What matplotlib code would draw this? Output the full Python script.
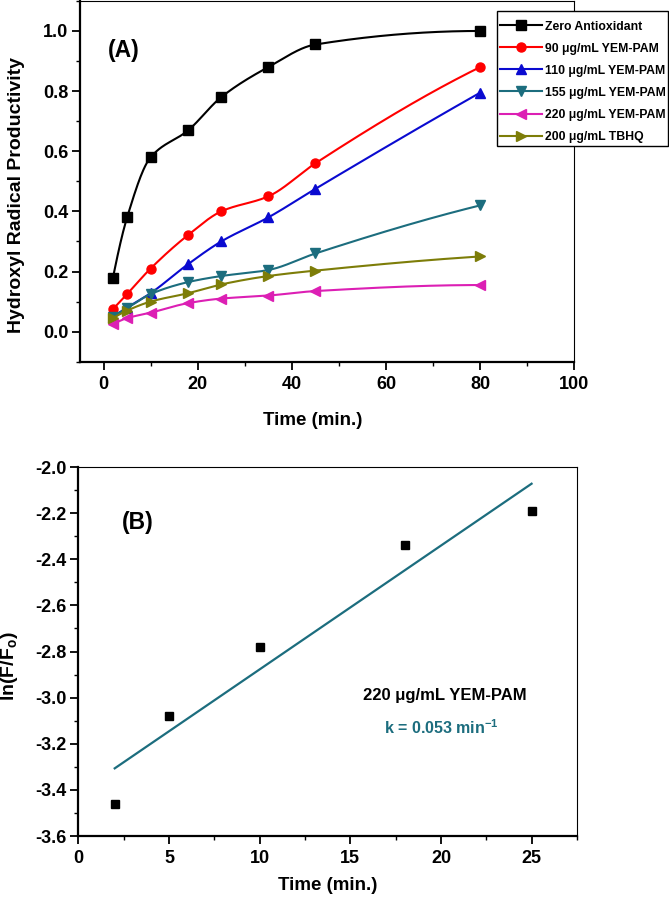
import matplotlib
matplotlib.use("Agg")
import matplotlib.pyplot as plt
from matplotlib.patches import Rectangle
from matplotlib.ticker import MultipleLocator, FormatStrFormatter
import numpy as np

plt.rcParams['font.family'] = ['Liberation Sans', 'DejaVu Sans']
plt.rcParams['font.weight'] = 'bold'
plt.rcParams['mathtext.fontset'] = 'custom'
plt.rcParams['mathtext.bf'] = 'Liberation Sans:bold'
plt.rcParams['mathtext.rm'] = 'Liberation Sans:bold'

# Дані панелі (A)
time_a = [2, 5, 10, 18, 25, 35, 45, 80]
zero_antiox = [0.18, 0.38, 0.58, 0.67, 0.78, 0.88, 0.955, 1.0]
yem_90 = [0.075, 0.125, 0.21, 0.322, 0.40, 0.45, 0.56, 0.88]
yem_110 = [0.05, 0.08, 0.128, 0.225, 0.30, 0.38, 0.475, 0.795]
yem_155 = [0.05, 0.078, 0.125, 0.165, 0.185, 0.205, 0.26, 0.42]
yem_220 = [0.025, 0.045, 0.063, 0.095, 0.11, 0.12, 0.135, 0.155]
tbhq_200 = [0.045, 0.07, 0.10, 0.128, 0.157, 0.185, 0.203, 0.25]

labels_a = ["Zero Antioxidant", "90 μg/mL YEM-PAM", "110 μg/mL YEM-PAM",
            "155 μg/mL YEM-PAM", "220 μg/mL YEM-PAM", "200 μg/mL TBHQ"]

# Дані панелі (B)
time_b = [2, 5, 10, 18, 25]
ln_ratio = [-3.46, -3.08, -2.78, -2.34, -2.19]

TEAL = '#1c6d7e'


def pchip_curve(x, y, n=400):
    # монотонна кубічна інтерполяція (Fritsch-Carlson) для гладкої лінії
    x = np.asarray(x, float)
    y = np.asarray(y, float)
    h = np.diff(x)
    delta = np.diff(y) / h
    d = np.zeros_like(y)
    for i in range(1, len(x) - 1):
        if delta[i - 1] * delta[i] > 0:
            w1 = 2 * h[i] + h[i - 1]
            w2 = h[i] + 2 * h[i - 1]
            d[i] = (w1 + w2) / (w1 / delta[i - 1] + w2 / delta[i])
    d[0] = ((2 * h[0] + h[1]) * delta[0] - h[0] * delta[1]) / (h[0] + h[1])
    if np.sign(d[0]) != np.sign(delta[0]):
        d[0] = 0
    d[-1] = ((2 * h[-1] + h[-2]) * delta[-1] - h[-1] * delta[-2]) / (h[-1] + h[-2])
    if np.sign(d[-1]) != np.sign(delta[-1]):
        d[-1] = 0
    xs = np.linspace(x[0], x[-1], n)
    idx = np.clip(np.searchsorted(x, xs) - 1, 0, len(x) - 2)
    t = (xs - x[idx]) / h[idx]
    h00 = 2 * t**3 - 3 * t**2 + 1
    h10 = t**3 - 2 * t**2 + t
    h01 = -2 * t**3 + 3 * t**2
    h11 = t**3 - t**2
    ys = h00 * y[idx] + h10 * h[idx] * d[idx] + h01 * y[idx + 1] + h11 * h[idx] * d[idx + 1]
    return xs, ys


fig = plt.figure(figsize=(6.69, 9), dpi=100)
ax1 = fig.add_axes([0.1196, 0.5981, 0.739, 0.4009])
ax2 = fig.add_axes([0.1173, 0.0711, 0.745, 0.41])

series = [zero_antiox, yem_90, yem_110, yem_155, yem_220, tbhq_200]
colors = ['black', '#ff0000', '#0a0ad0', TEAL, '#dc1fb4', '#7d7d08']
markers = ['s', 'o', '^', 'v', '<', '>']

handles = []
for vals, c, mk, lab in zip(series, colors, markers, labels_a):
    xs, ys = pchip_curve(time_a, vals)
    ax1.plot(xs, ys, color=c, lw=1.5)
    ax1.plot(time_a, vals, ls='none', marker=mk, color=c, ms=6.5)
    h, = ax1.plot([], [], color=c, marker=mk, lw=1.5, ms=6.5, label=lab)
    handles.append(h)

ax1.set_xlim(-5, 100)
ax1.set_ylim(-0.1, 1.1)
ax1.xaxis.set_major_locator(MultipleLocator(20))
ax1.xaxis.set_minor_locator(MultipleLocator(10))
ax1.set_yticks([0.0, 0.2, 0.4, 0.6, 0.8, 1.0])
ax1.yaxis.set_minor_locator(MultipleLocator(0.1))
ax1.yaxis.set_major_formatter(FormatStrFormatter('%.1f'))
ax1.set_xlabel("Time (min.)", fontsize=13.5, fontweight='bold', va='top')
ax1.set_ylabel("Hydroxyl Radical Productivity", fontsize=14, fontweight='bold')
ax1.xaxis.set_label_coords(0.471, -0.138)
ax1.yaxis.set_label_coords(-0.112, 0.461)
ax1.text(1.0, 0.935, "(A)", fontsize=16.5, fontweight='bold', va='center')

# рамка легенди виходить за межі осей, тому малюємо її окремо
fig.patches.append(Rectangle((0.7434, 0.8378), 0.2552, 0.15, transform=fig.transFigure,
                             facecolor='white', edgecolor='black', lw=1.0, zorder=1))
fig.legend(handles=handles, loc='upper left', bbox_to_anchor=(0.7474, 0.977),
           frameon=False, prop={'weight': 'bold', 'size': 8.8}, handlelength=3.4,
           labelspacing=0.82, borderpad=0, handletextpad=0.27, borderaxespad=0)

# Панель (B) з лінійною апроксимацією
ax2.plot(time_b, ln_ratio, ls='none', marker='s', color='black', ms=5.2)
k, b0 = np.polyfit(time_b, ln_ratio, 1)
xf = np.array([time_b[0], time_b[-1]])
ax2.plot(xf, k * xf + b0, color=TEAL, lw=1.6)

ax2.set_xlim(0, 27.5)
ax2.set_ylim(-3.6, -2.0)
ax2.xaxis.set_major_locator(MultipleLocator(5))
ax2.xaxis.set_minor_locator(MultipleLocator(2.5))
ax2.yaxis.set_major_locator(MultipleLocator(0.2))
ax2.yaxis.set_minor_locator(MultipleLocator(0.1))
ax2.yaxis.set_major_formatter(FormatStrFormatter('%.1f'))
ax2.set_xlabel("Time (min.)", fontsize=13.5, fontweight='bold', va='top')
ax2.set_ylabel(r"ln(F/F$_{\mathbf{o}}$)", fontsize=14, fontweight='bold')
ax2.xaxis.set_label_coords(0.5, -0.11)
ax2.yaxis.set_label_coords(-0.118, 0.46)
ax2.text(2.4, -2.24, "(B)", fontsize=16.5, fontweight='bold', va='center')
ax2.text(20.2, -2.99, "220 μg/mL YEM-PAM", fontsize=12, fontweight='bold', ha='center', va='center')
ax2.text(20.0, -3.13, r"k = 0.053 min$^{\mathbf{-1}}$", fontsize=11.5, fontweight='bold',
         color=TEAL, ha='center', va='center')

for ax in (ax1, ax2):
    ax.tick_params(which='major', direction='out', length=5.5, width=1.3, labelsize=13, pad=3)
    ax.tick_params(which='minor', direction='out', length=3, width=1.0)
    ax.tick_params(axis='x', which='major', pad=4.5)
    for lab in ax.get_xticklabels() + ax.get_yticklabels():
        lab.set_fontweight('bold')
    ax.spines['top'].set_linewidth(0.8)
    ax.spines['right'].set_linewidth(0.8)
    ax.spines['left'].set_linewidth(1.6)
    ax.spines['bottom'].set_linewidth(1.6)

fig.savefig("out.png", dpi=100)
